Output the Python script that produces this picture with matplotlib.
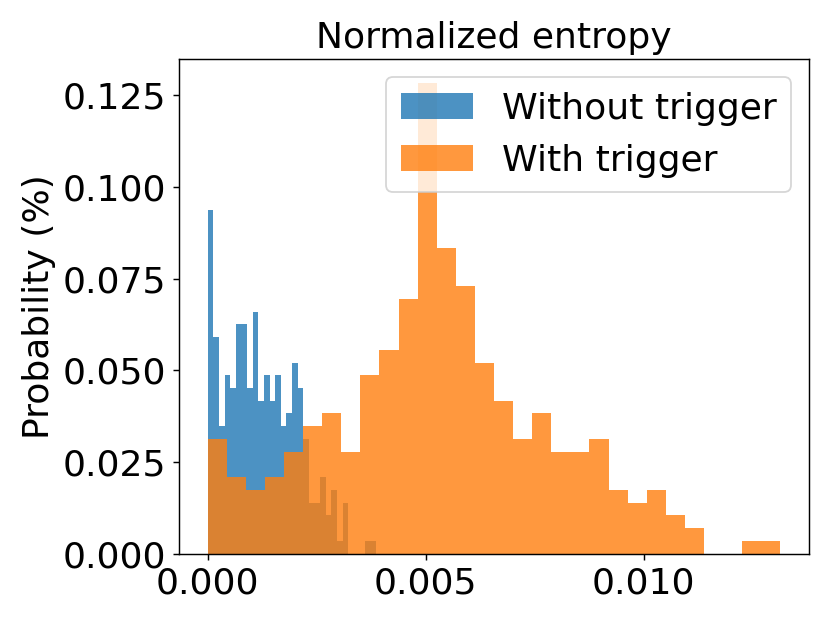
import numpy as np
import matplotlib
matplotlib.use("Agg")
import matplotlib.pyplot as plt

# counts per bin (30 bins each); shown as share of total
without_counts = [27, 17, 10, 14, 13, 18, 18, 13, 19, 12,
                  14, 12, 14, 10, 11, 15, 13, 9, 4, 4,
                  6, 3, 5, 1, 4, 0, 0, 0, 1, 1]
with_counts = [9, 6, 5, 6, 8, 10, 11, 8, 14, 16,
               20, 37, 24, 21, 15, 12, 9, 11, 8, 8,
               9, 5, 4, 5, 3, 2, 0, 0, 1, 1]

without_max = 0.00387
with_max = 0.013135

labels = ["Without trigger", "With trigger"]

plt.rcParams["font.size"] = 20

fig = plt.figure(figsize=(830 / 130, 623 / 130), dpi=130)
ax = fig.add_subplot(111)
fig.subplots_adjust(left=179 / 830, right=809 / 830,
                    top=1 - 59 / 623, bottom=1 - 553.5 / 623)

for counts, xmax, label in [
    (without_counts, without_max, labels[0]),
    (with_counts, with_max, labels[1]),
]:
    counts = np.array(counts, dtype=float)
    edges = np.linspace(0, xmax, len(counts) + 1)
    centers = (edges[:-1] + edges[1:]) / 2
    ax.hist(
        centers,
        bins=edges,
        weights=counts / counts.sum(),
        alpha=0.8,
        label=label
    )

ax.set_title("Normalized entropy", fontsize=20)
ax.set_ylabel("Probability (%)")
ax.legend(loc="upper right")

fig.savefig("out.png", dpi=130)
